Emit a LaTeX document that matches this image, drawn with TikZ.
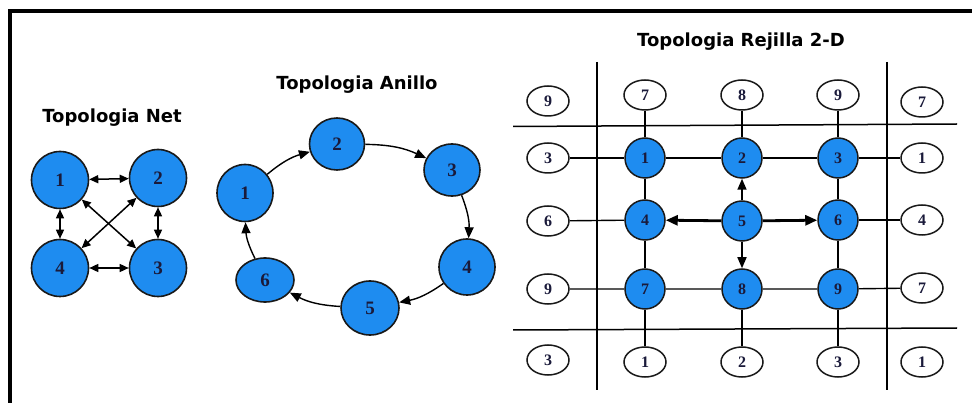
\documentclass[tikz,border=0pt]{standalone}
\usepackage{fontspec}
\setmainfont{Liberation Serif}
\newfontfamily\headfont{DejaVu Sans}
\usetikzlibrary{arrows.meta, positioning, shapes.geometric}
\definecolor{nodeblue}{HTML}{1E8CF0}
\definecolor{digitnavy}{HTML}{1A1A3A}

\begin{document}
\begin{tikzpicture}[x=1pt, y=-1pt,
    headline/.style={font=\headfont\bfseries\fontsize{18}{22}\selectfont},
    bluenode/.style={draw=black!90, fill=nodeblue, ellipse, line width=1.6pt, inner sep=0pt, text=digitnavy, font=\bfseries\fontsize{19}{22}\selectfont},
    cellnode/.style={draw=black!90, fill=nodeblue, circle, minimum size=40pt, line width=1.5pt, inner sep=0pt, text=digitnavy, font=\bfseries\fontsize{16}{19}\selectfont},
    wrapnode/.style={draw=black!90, fill=white, ellipse, minimum width=42pt, minimum height=30pt, line width=1.5pt, inner sep=0pt, text=digitnavy, font=\bfseries\fontsize{16}{19}\selectfont},
    netarrow/.style={<->, >={Stealth[length=9pt, width=8pt, inset=0pt]}, line width=1.5pt},
    ringarrow/.style={->, >={Stealth[length=11pt, width=9pt, inset=0pt]}, line width=1.4pt, bend left=12},
    link/.style={line width=1.4pt},
    boldarrow/.style={->, >={Stealth[length=12pt, width=10pt, inset=0pt]}, line width=2.8pt},
    thinarrow/.style={->, >={Stealth[length=11pt, width=9pt, inset=0pt]}, line width=1.6pt},
    gridline/.style={line width=1.5pt}]
    \useasboundingbox (0,0) rectangle (972,403);
    % Frame
    \draw[line width=3.2pt] (10,403) -- (10,11) -- (972,11);

    % Net topology
    \node[headline] (nettitle) at (112,118) {Topologia Net};
    \node[bluenode, minimum width=57pt, minimum height=57pt] (n1) at (60,180) {1};
    \node[bluenode, minimum width=57pt, minimum height=57pt] (n2) at (158,178) {2};
    \node[bluenode, minimum width=57pt, minimum height=57pt] (n3) at (158,268) {3};
    \node[bluenode, minimum width=57pt, minimum height=57pt] (n4) at (60,268) {4};
    \draw[netarrow] (n1) -- (n2);
    \draw[netarrow] (n4) -- (n3);
    \draw[netarrow] (n1) -- (n4);
    \draw[netarrow] (n2) -- (n3);
    \draw[netarrow] (n1) -- (n3);
    \draw[netarrow] (n2) -- (n4);

    % Ring topology
    \node[headline] (ringtitle) at (357,85) {Topologia Anillo};
    \node[bluenode, minimum width=56pt, minimum height=57pt] (r1) at (245,193) {1};
    \node[bluenode, minimum width=55pt, minimum height=52pt] (r2) at (337,144) {2};
    \node[bluenode, minimum width=56pt, minimum height=52pt] (r3) at (452,170) {3};
    \node[bluenode, minimum width=56pt, minimum height=56pt] (r4) at (467,267) {4};
    \node[bluenode, minimum width=58pt, minimum height=54pt] (r5) at (370,308) {5};
    \node[bluenode, minimum width=58pt, minimum height=44pt] (r6) at (265,280) {6};
    \draw[ringarrow] (r1) to (r2);
    \draw[ringarrow] (r2) to (r3);
    \draw[ringarrow] (r3) to (r4);
    \draw[ringarrow] (r4) to (r5);
    \draw[ringarrow] (r5) to (r6);
    \draw[ringarrow] (r6) to (r1);

    % 2-D grid topology
    \node[headline] (gridtitle) at (741,42) {Topologia Rejilla 2-D};
    \draw[gridline] (597,62) -- (597,390);
    \draw[gridline] (887,62) -- (887,390);
    \draw[gridline] (513,126.5) -- (957,124);
    \draw[gridline] (513,330) -- (957,328);
    % wrap-around row above
    \node[wrapnode] (c00) at (548,101) {9}; \node[wrapnode] (c01) at (645,95) {7}; \node[wrapnode] (c02) at (742,95) {8};
    \node[wrapnode] (c03) at (838,95) {9}; \node[wrapnode] (c04) at (922,102) {7};
    % first row
    \node[wrapnode] (c10) at (548,158) {3}; \node[cellnode] (c11) at (645,158) {1}; \node[cellnode] (c12) at (742,158) {2};
    \node[cellnode] (c13) at (838,158) {3}; \node[wrapnode] (c14) at (922,158) {1};
    % second row
    \node[wrapnode] (c20) at (548,221) {6}; \node[cellnode] (c21) at (645,220) {4}; \node[cellnode] (c22) at (742,221) {5};
    \node[cellnode] (c23) at (838,220) {6}; \node[wrapnode] (c24) at (922,220) {4};
    % third row
    \node[wrapnode] (c30) at (548,289) {9}; \node[cellnode] (c31) at (645,289) {7}; \node[cellnode] (c32) at (742,289) {8};
    \node[cellnode] (c33) at (838,289) {9}; \node[wrapnode] (c34) at (922,288) {7};
    % wrap-around row below
    \node[wrapnode] (c40) at (548,360) {3}; \node[wrapnode] (c41) at (645,362) {1}; \node[wrapnode] (c42) at (742,362) {2};
    \node[wrapnode] (c43) at (838,362) {3}; \node[wrapnode] (c44) at (922,362) {1};
    % links
    \draw[link] (c01) -- (c11); \draw[link] (c02) -- (c12); \draw[link] (c03) -- (c13);
    \draw[link] (c10) -- (c11) -- (c12) -- (c13) -- (c14);
    \draw[link] (c20) -- (c21); \draw[link] (c23) -- (c24);
    \draw[link] (c30) -- (c31) -- (c32) -- (c33) -- (c34);
    \draw[link] (c11) -- (c21) -- (c31) -- (c41);
    \draw[link] (c13) -- (c23) -- (c33) -- (c43);
    \draw[link] (c32) -- (c42);
    % messages from node 5
    \draw[boldarrow] (c22) -- (c21);
    \draw[boldarrow] (c22) -- (c23);
    \draw[thinarrow] (c22) -- (c12);
    \draw[thinarrow] (c22) -- (c32);
\end{tikzpicture}
\end{document}
